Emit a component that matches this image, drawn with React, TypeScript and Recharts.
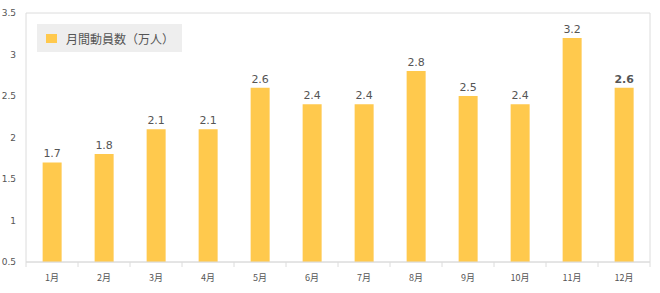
import React from 'react';
import { BarChart, Bar, XAxis, YAxis, CartesianGrid, LabelList } from 'recharts';

const months = ['1月', '2月', '3月', '4月', '5月', '6月', '7月', '8月', '9月', '10月', '11月', '12月'];
const visitors = [1.7, 1.8, 2.1, 2.1, 2.6, 2.4, 2.4, 2.8, 2.5, 2.4, 3.2, 2.6];
const yTicks = [0.5, 1, 1.5, 2, 2.5, 3, 3.5];
const seriesName = '月間動員数（万人）';

const data = months.map((m, i) => ({ month: m, value: visitors[i] }));

const BAR = '#FFC94D';
const GRID = '#dcdcdc';
const TEXT = '#555';

const MonthTick = (props: any) => {
  const { x, y, payload, index } = props;
  const half = payload && payload.offset ? payload.offset : 26;
  const last = index === months.length - 1;
  return (
    <g>
      <line x1={x - half} x2={x - half} y1={y - 8} y2={y - 3} stroke={GRID} />
      {last && <line x1={x + half} x2={x + half} y1={y - 8} y2={y - 3} stroke={GRID} />}
      <text x={x} y={y + 11} textAnchor="middle" fontSize={9} fill={TEXT} fontFamily="'Noto Sans CJK JP', 'DejaVu Sans', sans-serif">
        {payload.value}
      </text>
    </g>
  );
};

const ValueLabel = (props: any) => {
  const { x, y, width, value, index } = props;
  return (
    <text
      x={x + width / 2}
      y={y - 5}
      textAnchor="middle"
      fontSize={11}
      fill={TEXT}
      fontWeight={index === months.length - 1 ? 'bold' : 'normal'}
      fontFamily="'DejaVu Sans', sans-serif"
    >
      {value}
    </text>
  );
};

const LegendBox = () => (
  <div
    style={{
      position: 'absolute',
      top: 24,
      left: 37,
      background: '#eeeeee',
      display: 'flex',
      alignItems: 'center',
      height: 28,
      padding: '0 8px 0 9px',
      fontFamily: "'Noto Sans CJK JP', sans-serif",
      fontSize: 12,
      color: TEXT,
    }}
  >
    <span style={{ display: 'inline-block', width: 11, height: 9, background: BAR, marginRight: 9 }} />
    {seriesName}
  </div>
);

export default function App() {
  return (
    <div style={{ position: 'fixed', left: 0, top: 0, width: 660, height: 293, background: '#fff' }}>
      <BarChart width={660} height={293} data={data} margin={{ top: 13, right: 9, bottom: 0, left: 0 }} barCategoryGap="32%">
        <CartesianGrid vertical={false} stroke={GRID} />
        <XAxis
          dataKey="month"
          height={31}
          axisLine={{ stroke: GRID }}
          tickLine={false}
          tick={<MonthTick />}
          interval={0}
        />
        <YAxis
          yAxisId="left"
          width={26}
          domain={[0.5, 3.5]}
          ticks={yTicks}
          allowDataOverflow
          axisLine={{ stroke: GRID }}
          tickLine={false}
          tick={{ fontSize: 9, fill: TEXT, fontFamily: "'DejaVu Sans', sans-serif" }}
          tickMargin={4}
        />
        <YAxis yAxisId="right" orientation="right" width={1} domain={[0.5, 3.5]} tick={false} tickLine={false} axisLine={{ stroke: GRID }} />
        <Bar yAxisId="left" dataKey="value" name={seriesName} fill={BAR} isAnimationActive={false}>
          <LabelList dataKey="value" content={<ValueLabel />} />
        </Bar>
      </BarChart>
      <LegendBox />
    </div>
  );
}
